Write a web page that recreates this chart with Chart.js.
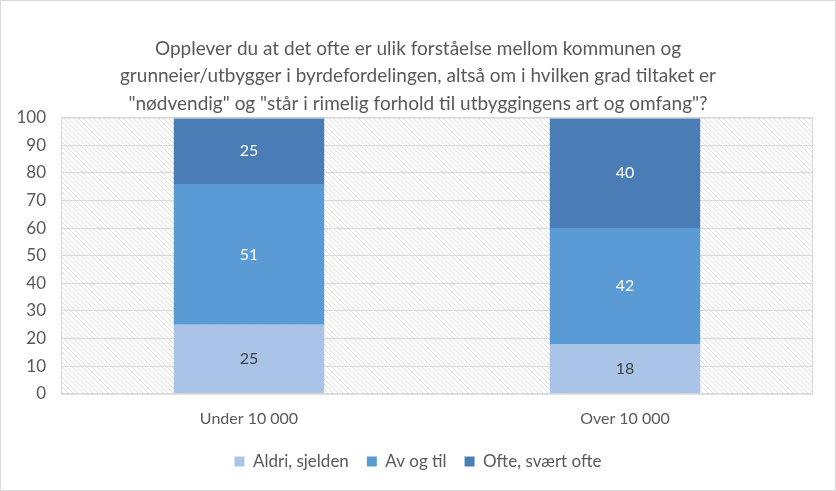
<!DOCTYPE html>
<html>
<head>
<meta charset="utf-8">
<script src="https://cdn.jsdelivr.net/npm/chart.js@4"></script>
<style>
  html, body { margin: 0; padding: 0; background: #fff; }
  #wrap { width: 834px; height: 489px; border: 1px solid #d9d9d9; }
</style>
</head>
<body>
<div id="wrap"><canvas id="chart" width="834" height="489"></canvas></div>
<script>
const categories = ['Under 10 000', 'Over 10 000'];
const seriesNames = ['Aldri, sjelden', 'Av og til', 'Ofte, svært ofte'];
const aldri = [25, 18];
const avOgTil = [51, 42];
const ofte = [25, 40];
const yTicks = [0, 10, 20, 30, 40, 50, 60, 70, 80, 90, 100];

const titleLines = [
  'Opplever du at det ofte er ulik forståelse mellom kommunen og',
  'grunneier/utbygger i byrdefordelingen, altså om i hvilken grad tiltaket er',
  '"nødvendig" og "står i rimelig forhold til utbyggingens art og omfang"?'
];

const colors = ['#a9c4e6', '#5b9bd5', '#4a7db5'];
const labelColors = ['#404040', '#ffffff', '#ffffff'];
const FONT = 'Lato, "Liberation Sans", Arial, sans-serif';

// hatched plot background
function makeHatch(ctx) {
  const n = 5;
  const c = document.createElement('canvas');
  c.width = n; c.height = n;
  const p = c.getContext('2d');
  p.fillStyle = '#ffffff';
  p.fillRect(0, 0, n, n);
  p.fillStyle = '#dedede';
  for (let i = 0; i < n; i++) p.fillRect(i, i, 1, 1);
  return ctx.createPattern(c, 'repeat');
}

const hatchBackground = {
  id: 'hatchBackground',
  beforeDraw(chart) {
    const { ctx, chartArea: a } = chart;
    ctx.save();
    ctx.fillStyle = makeHatch(ctx);
    ctx.fillRect(a.left, a.top, a.right - a.left, a.bottom - a.top);
    ctx.restore();
  }
};

// center title and legend on the whole canvas, not the padded box
const centerBlocks = {
  id: 'centerBlocks',
  afterLayout(chart) {
    [chart.titleBlock, chart.legend].forEach(b => {
      if (!b) return;
      b.left = 0;
      b.right = chart.width;
      b.width = chart.width;
    });
  }
};

const barLabels = {
  id: 'barLabels',
  afterDatasetsDraw(chart) {
    const { ctx, chartArea: a } = chart;
    ctx.save();
    ctx.font = '16px ' + FONT;
    ctx.textAlign = 'center';
    ctx.textBaseline = 'middle';
    chart.data.datasets.forEach((ds, i) => {
      chart.getDatasetMeta(i).data.forEach((bar, j) => {
        const top = Math.max(Math.min(bar.y, bar.base), a.top);
        const bottom = Math.min(Math.max(bar.y, bar.base), a.bottom);
        ctx.fillStyle = labelColors[i];
        ctx.fillText(String(ds.data[j]), bar.x, (top + bottom) / 2);
      });
    });
    ctx.restore();
  }
};

const plotBorder = {
  id: 'plotBorder',
  afterDraw(chart) {
    const { ctx, chartArea: a } = chart;
    ctx.save();
    ctx.strokeStyle = '#d9d9d9';
    ctx.lineWidth = 1;
    ctx.strokeRect(a.left + 0.5, a.top + 0.5, a.right - a.left - 1, a.bottom - a.top);
    ctx.restore();
  }
};

new Chart(document.getElementById('chart'), {
  type: 'bar',
  data: {
    labels: categories,
    datasets: [
      { label: seriesNames[0], data: aldri, backgroundColor: colors[0] },
      { label: seriesNames[1], data: avOgTil, backgroundColor: colors[1] },
      { label: seriesNames[2], data: ofte, backgroundColor: colors[2] }
    ]
  },
  options: {
    responsive: false,
    animation: false,
    layout: { padding: { left: 6, right: 22, top: 34, bottom: 10 } },
    datasets: { bar: { categoryPercentage: 1, barPercentage: 0.4 } },
    scales: {
      x: {
        stacked: true,
        grid: { display: false },
        border: { display: false },
        ticks: { color: '#595959', font: { family: FONT, size: 16 }, padding: 7 }
      },
      y: {
        stacked: true,
        min: 0,
        max: 100,
        afterBuildTicks(axis) { axis.ticks = yTicks.map(v => ({ value: v })); },
        afterFit(axis) { axis.width = 54; },
        grid: { color: '#d9d9d9', lineWidth: 1, drawTicks: false },
        border: { display: false },
        ticks: { color: '#595959', font: { family: FONT, size: 17 }, padding: 15 }
      }
    },
    plugins: {
      title: {
        display: true,
        text: titleLines,
        color: '#595959',
        font: { family: FONT, size: 19, weight: 'normal', lineHeight: 1.45 },
        padding: { top: 0, bottom: 0 }
      },
      legend: {
        position: 'bottom',
        labels: {
          color: '#595959',
          font: { family: FONT, size: 17 },
          boxWidth: 10,
          boxHeight: 10,
          padding: 18
        }
      },
      tooltip: { enabled: false }
    }
  },
  plugins: [hatchBackground, centerBlocks, barLabels, plotBorder]
});
</script>
</body>
</html>
